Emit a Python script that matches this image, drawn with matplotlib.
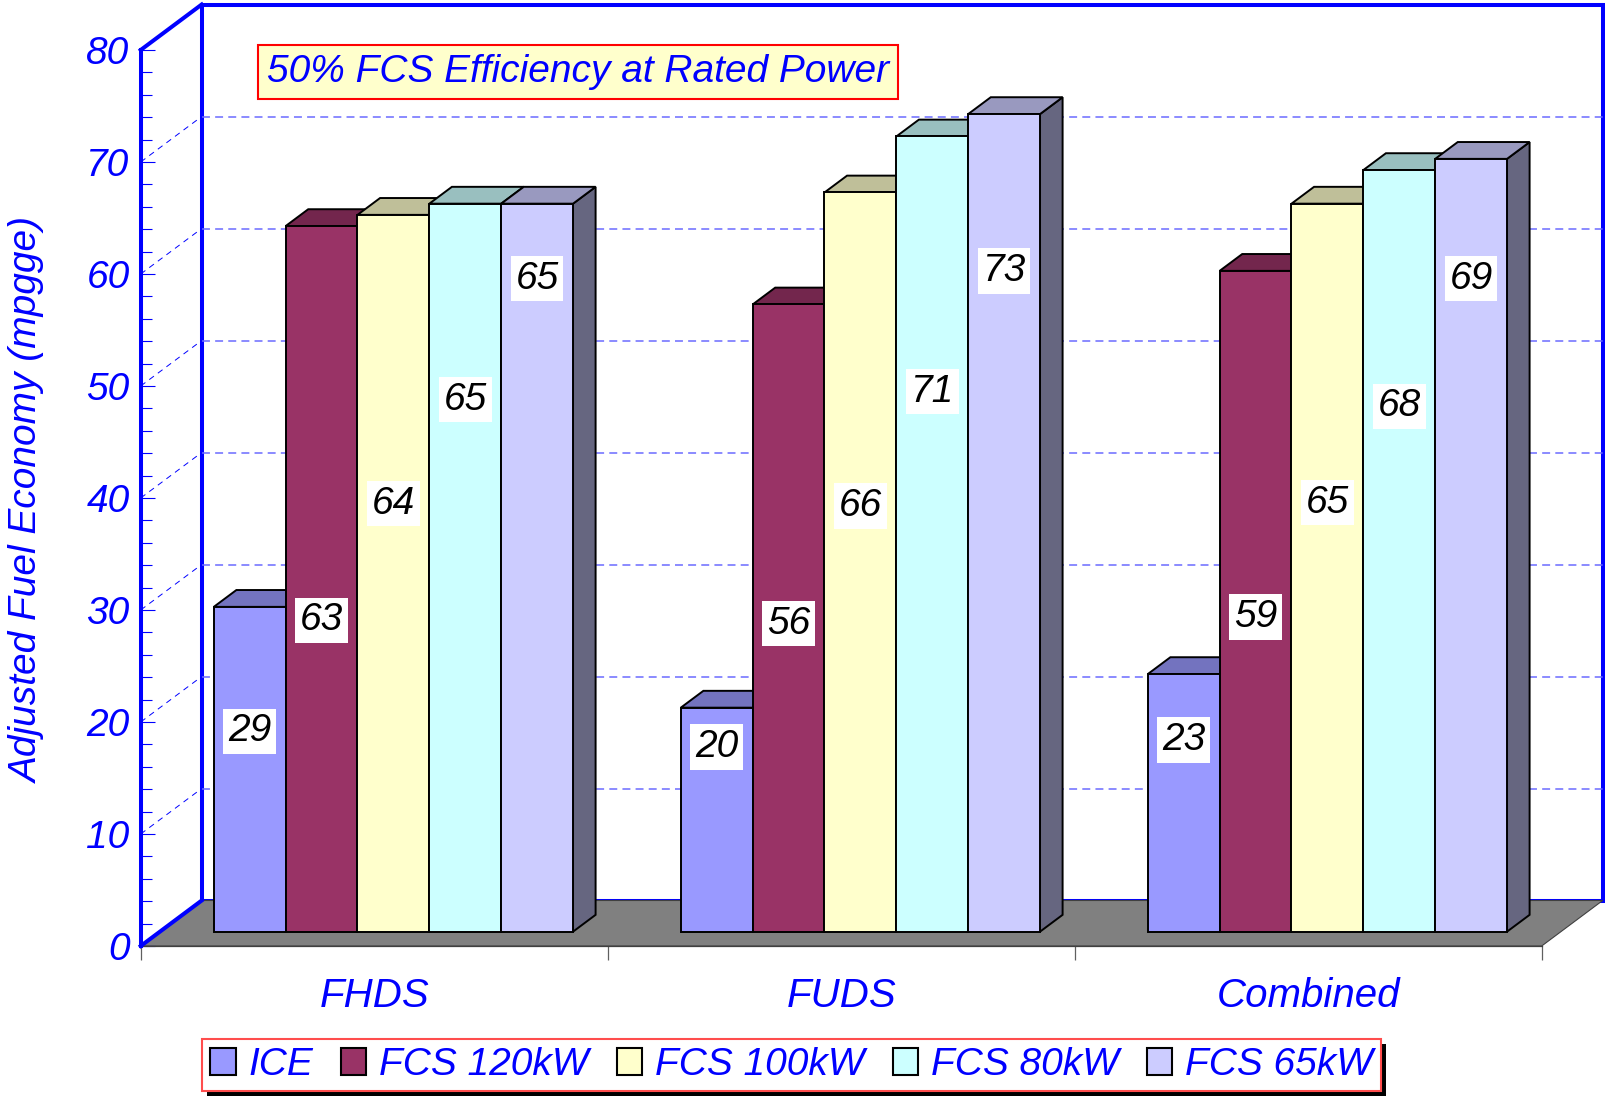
import matplotlib

matplotlib.use("Agg")
import matplotlib.pyplot as plt
import numpy as np
from matplotlib.patches import Polygon, Rectangle
from matplotlib.ticker import FixedLocator
from matplotlib.transforms import IdentityTransform

plt.rcParams["font.family"] = ["Liberation Sans", "DejaVu Sans"]

# ---- data ----
categories = ["FHDS", "FUDS", "Combined"]
series = ["ICE", "FCS 120kW", "FCS 100kW", "FCS 80kW", "FCS 65kW"]
ice = [29, 20, 23]
fcs_120 = [63, 56, 59]
fcs_100 = [64, 66, 65]
fcs_80 = [65, 71, 68]
fcs_65 = [65, 73, 69]
colors = ["#9999FF", "#993366", "#FFFFCC", "#CCFFFF", "#CCCCFF"]

# height (value units) at which each value box sits, per series x category
label_y = [
    [17.9, 16.5, 17.1],
    [27.8, 27.5, 28.1],
    [38.2, 38.0, 38.3],
    [47.5, 48.2, 46.9],
    [58.3, 59.0, 58.3],
]

# ---- layout (pixels of the 1605x1097 canvas) ----
W, H = 1605, 1097
X0, Y0 = 140.7, 151.0          # origin of the front plane, from left / bottom
PX_CAT, PX_VAL = 467.0, 11.2   # pixels per category, per value unit
DEPTH_X, DEPTH_Y = 61 / PX_CAT, 45.5 / PX_VAL
BAR_W = 1 / 6.5
GAP = 0.75 / 6.5
D0, D1 = 0.315, 0.685
VMAX = 80
BLUE = "#0000FF"
FS = 28


def proj(x, v, d):
    """Oblique projection: depth d in [0, 1] shifts up and right."""
    return (x + d * DEPTH_X, v + d * DEPTH_Y)


def shade(hex_color, k):
    rgb = np.array(matplotlib.colors.to_rgb(hex_color)) * k
    return tuple(rgb)


fig = plt.figure(figsize=(W / 100, H / 100), dpi=100)
ax = fig.add_axes([0, 0, 1, 1])
ax.patch.set_visible(False)
ax.set_xlim(-X0 / PX_CAT, (W - X0) / PX_CAT)
ax.set_ylim(-Y0 / PX_VAL, (H - Y0) / PX_VAL)
ncat = len(categories)

# back wall
wall = [proj(0, 0, 1), proj(ncat, 0, 1), proj(ncat, VMAX, 1), proj(0, VMAX, 1)]
ax.add_patch(Polygon(wall, closed=True, fc="white", ec=BLUE, lw=2.9,
                     joinstyle="miter", zorder=0.5))

# floor
floor = [proj(0, 0, 0), proj(ncat, 0, 0), proj(ncat, 0, 1), proj(0, 0, 1)]
ax.add_patch(Polygon(floor, closed=True, fc="#808080", ec="#404040",
                     lw=0.8, zorder=1))

# gridlines: back wall + left wall diagonals
for v in range(10, VMAX, 10):
    xs, ys = zip(proj(0, v, 1), proj(ncat, v, 1))
    ax.plot(xs, ys, color="#6B6BFF", lw=1.1, ls=(0, (5.2, 3.4)), zorder=0.8)
    xs, ys = zip(proj(0, v, 0), proj(0, v, 1))
    ax.plot(xs, ys, color=BLUE, lw=0.7, ls=(0, (6, 5)), zorder=0.8)

# left wall top and bottom edges
for v in (0, VMAX):
    xs, ys = zip(proj(0, v, 0), proj(0, v, 1))
    ax.plot(xs, ys, color=BLUE, lw=2.9, solid_capstyle="projecting", zorder=3)

# bars
values = [ice, fcs_120, fcs_100, fcs_80, fcs_65]
for i in range(ncat):
    for j, vals in enumerate(values):
        v = vals[i]
        xl = i + GAP + j * BAR_W
        xr = xl + BAR_W
        z = 10 + i * 20 + j * 3
        side = [proj(xr, 0, D0), proj(xr, 0, D1), proj(xr, v, D1), proj(xr, v, D0)]
        top = [proj(xl, v, D0), proj(xr, v, D0), proj(xr, v, D1), proj(xl, v, D1)]
        front = [proj(xl, 0, D0), proj(xr, 0, D0), proj(xr, v, D0), proj(xl, v, D0)]
        for pts, k in ((side, 0.5), (top, 0.75), (front, 1.0)):
            ax.add_patch(Polygon(pts, closed=True, fc=shade(colors[j], k),
                                 ec="black", lw=1.4, joinstyle="miter",
                                 zorder=z))
        ax.text(*proj(xl + BAR_W / 2, label_y[j][i], D0), f"{v}",
                ha="center", va="center", fontsize=FS, style="italic",
                color="black", zorder=100,
                bbox=dict(boxstyle="square,pad=0.12", fc="white", ec="none"))

# value axis (front left edge)
ax.spines["top"].set_visible(False)
ax.spines["right"].set_visible(False)
ax.spines["left"].set_position(("data", 0))
ax.spines["left"].set_bounds(0, VMAX)
ax.spines["left"].set_color(BLUE)
ax.spines["left"].set_linewidth(2.9)
ax.spines["left"].set_zorder(4)
yt = np.arange(0, VMAX + 1, 10)
ax.set_yticks(yt, [f"{t}" for t in yt], fontsize=FS, style="italic")
ax.yaxis.set_minor_locator(FixedLocator(np.arange(2, VMAX, 2)))
ax.tick_params(axis="y", which="both", direction="in", colors=BLUE,
               width=0.8, pad=8)
ax.tick_params(axis="y", which="major", length=10)
ax.tick_params(axis="y", which="minor", length=8)

# category axis (front edge of floor)
ax.spines["bottom"].set_position(("data", 0))
ax.spines["bottom"].set_bounds(0, ncat)
ax.spines["bottom"].set_color("#404040")
ax.spines["bottom"].set_linewidth(0.9)
ax.set_xticks(np.arange(ncat + 1), [""] * (ncat + 1))
ax.set_xticks(np.arange(ncat) + 0.5, categories, minor=True,
              fontsize=FS + 1, style="italic")
ax.tick_params(axis="x", which="major", direction="out", length=10,
               color="#606060", width=0.9)
ax.tick_params(axis="x", which="minor", length=0, pad=22, labelcolor=BLUE)

# axis title
fig.text(28 / W, (H - 500) / H, "Adjusted Fuel Economy (mpgge)",
         rotation=90, ha="center", va="center", fontsize=FS,
         style="italic", color=BLUE)

# annotation box
ax.text(578 / W, 1 - 72 / H, "50% FCS Efficiency at Rated Power",
        transform=ax.transAxes, ha="center", va="center", fontsize=FS,
        style="italic", color=BLUE, zorder=120,
        bbox=dict(boxstyle="square,pad=0.22", fc="#FFFFCC", ec="#FF0000",
                  lw=1.5))

# legend
handles = [Rectangle((0, 0), 1, 1, fc=c, ec="black", lw=1.5) for c in colors]
leg = ax.legend(handles, series, loc="center", ncol=len(series),
                bbox_to_anchor=(791.5 / W, 32 / H),
                bbox_transform=fig.transFigure,
                prop={"style": "italic", "size": FS}, labelcolor=BLUE,
                handlelength=0.65, handleheight=0.67, handletextpad=0.33,
                columnspacing=0.72, borderpad=0.2, borderaxespad=0,
                fancybox=False, framealpha=1, edgecolor="#FF4D4D")
leg.get_frame().set_linewidth(1.5)
leg.set_zorder(130)

fig.canvas.draw()
bb = leg.get_window_extent()
ax.add_artist(Rectangle((bb.x0 + 5, bb.y0 - 5), bb.width, bb.height,
                        fc="black", ec="none", transform=IdentityTransform(),
                        zorder=125))

fig.savefig("out.png", dpi=100)
